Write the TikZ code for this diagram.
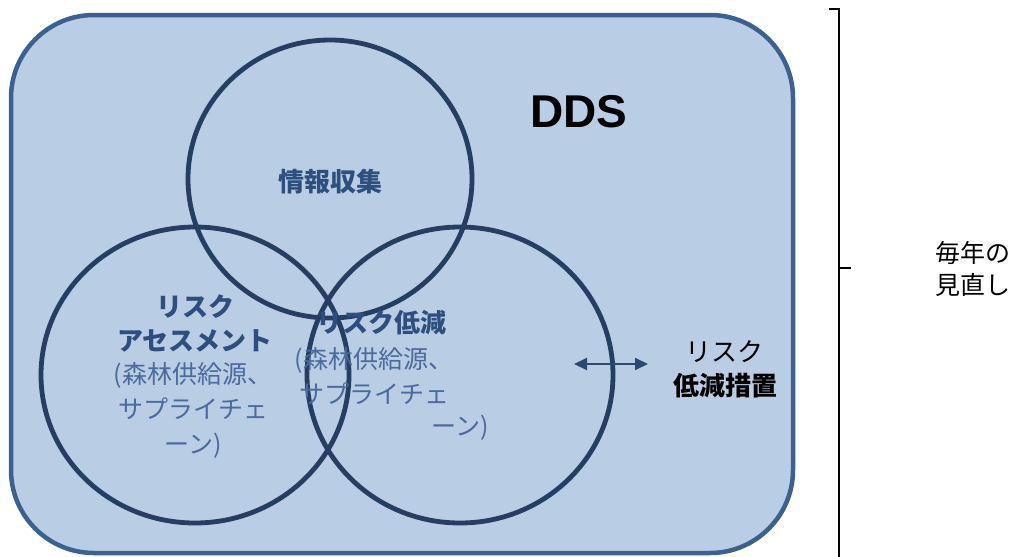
\documentclass[tikz,border=0pt]{standalone}
\usepackage{fontspec}
\setmainfont{Liberation Sans}
\newfontfamily\jp{Noto Sans CJK JP}
\usetikzlibrary{arrows.meta}
\definecolor{boxfill}{HTML}{B9CDE5}
\definecolor{boxline}{HTML}{3B6191}
\definecolor{ringline}{HTML}{243F62}
\definecolor{headtxt}{HTML}{2E4F7E}
\definecolor{subtxt}{HTML}{4A6B9B}
\definecolor{arrowc}{HTML}{2B4A72}
\tikzset{
  ring/.style={draw=ringline, line width=4.8pt},
  headlbl/.style={font=\jp\bfseries\fontsize{26}{34}\selectfont, text=headtxt, align=center, inner sep=0pt},
  sublbl/.style={font=\jp\fontsize{25}{35}\selectfont, text=subtxt, align=center, inner sep=0pt},
  blacklbl/.style={font=\jp\fontsize{26}{34}\selectfont, text=black, align=center, inner sep=0pt},
  reviewlbl/.style={font=\jp\fontsize{25}{32}\selectfont, text=black, align=center, inner sep=0pt},
}
\begin{document}
\begin{tikzpicture}[x=1pt,y=-1pt]
\useasboundingbox (0,0) rectangle (1015,557);
% main rounded box
\draw[fill=boxfill, draw=boxline, line width=4.5pt, rounded corners=83pt] (11,15) rectangle (793,553);
% circles
\draw[ring] (330,179) ellipse [x radius=142, y radius=139];
\draw[ring] (195,375) ellipse [x radius=154, y radius=148];
\draw[ring] (460,375) ellipse [x radius=153, y radius=148];
% title
\node (dds) at (579,112) {\fontsize{46}{46}\selectfont\bfseries DDS};
% labels
\node[headlbl] (info) at (330,182) {情報収集};
\node[headlbl] (assesshead) at (195,323) {リスク\\アセスメント};
\node[sublbl] (assesssub) at (193,410) {(森林供給源、\\サプライチェ\\ーン)};
\node[headlbl] (reducehead) at (381,323) {リスク低減};
\node[sublbl] (reducesub) at (374,376) {(森林供給源、\\サプライチェ};
\node[sublbl] (reducesub2) at (460,428) {ーン)};
% measures
\node[blacklbl] (meas1) at (724,352) {リスク};
\node[blacklbl,font=\jp\bfseries\fontsize{26}{34}\selectfont] (meas2) at (725,386) {低減措置};
\coordinate (al) at (574,364);
\coordinate (ar) at (648,364);
\draw[arrowc, line width=2pt, {Triangle[length=13pt,width=12pt]}-{Triangle[length=13pt,width=12pt]}] (al) -- (ar);
% bracket
\coordinate (bt0) at (829,9);
\coordinate (bt1) at (839,9);
\coordinate (bm0) at (839,268);
\coordinate (bm1) at (851,268);
\coordinate (bb) at (839,560);
\draw[line width=1.5pt] (bt0) -- (bt1) -- (bb);
\draw[line width=1.5pt] (bm0) -- (bm1);
\node[reviewlbl] (review) at (973,269) {毎年の\\見直し};
\end{tikzpicture}
\end{document}
